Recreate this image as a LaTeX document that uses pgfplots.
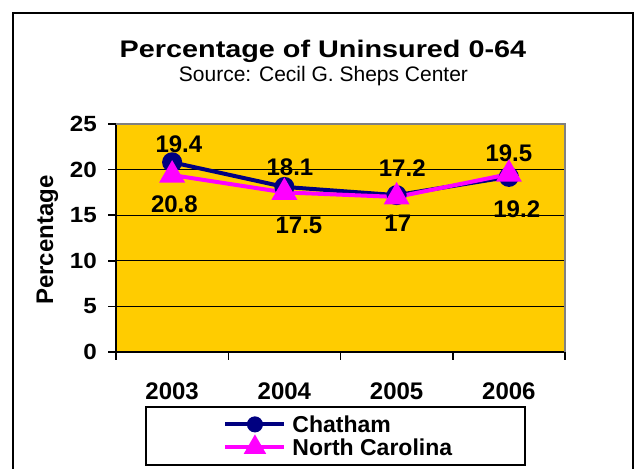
\documentclass[border=0pt]{standalone}
\usepackage{pgfplots}
\pgfplotsset{compat=1.18}
\usepackage{fontspec}
\setmainfont{Liberation Sans}
\newfontfamily\titlefont[FakeStretch=1.2]{Liberation Sans}
\newfontfamily\ytickfont[FakeStretch=1.1]{Liberation Sans}
\definecolor{plotbg}{HTML}{FFCC00}
\definecolor{chat}{HTML}{000080}
\definecolor{nc}{HTML}{FF00FF}
\definecolor{pgray}{HTML}{808080}
\tikzset{dl/.style={inner sep=0pt, font=\fontsize{24bp}{28bp}\selectfont\bfseries}}
\begin{document}
\begin{tikzpicture}[x=1bp,y=1bp]
\useasboundingbox (0,0) rectangle (637,469);
\fill[white] (0,0) rectangle (637,469);
\draw[line width=2.5bp] (13,-10) -- (13,456) -- (633,456) -- (633,-10);
\node[anchor=base, inner sep=0pt, font=\fontsize{24bp}{28bp}\titlefont\bfseries] at (323,411) {Percentage of Uninsured 0-64};
\node[anchor=base, inner sep=0pt, font=\fontsize{21bp}{25bp}\selectfont] at (323.5,387) {Source: Cecil G. Sheps Center};
\node[anchor=base, inner sep=0pt, rotate=90, font=\fontsize{24bp}{28bp}\selectfont\bfseries] at (53,229) {Percentage};
\draw[line width=1.5bp] (146,4) rectangle (525,62);
\begin{axis}[
  at={(116bp,117bp)}, anchor=south west,
  scale only axis, width=449bp, height=228bp,
  xmin=0.5, xmax=4.5, ymin=0, ymax=25,
  ytick={0,5,...,25},
  xtick={1,2,3,4}, xticklabels={2003,2004,2005,2006},
  major x tick style={draw=none},
  minor xtick={0.5,1.5,2.5,3.5,4.5},
  tick align=outside, tick pos=left,
  major tick length=8bp, minor tick length=8bp,
  every tick/.style={black, line width=1.5bp},
  axis line style={black, line width=1.5bp},
  axis background/.style={fill=plotbg},
  ymajorgrids, major grid style={black, line width=1.3bp},
  /pgf/number format/assume math mode=true,
  yticklabel style={font=\fontsize{22bp}{26bp}\ytickfont\bfseries, anchor=east, inner ysep=0pt, inner xsep=11bp},
  xticklabel style={font=\fontsize{24bp}{28bp}\selectfont\bfseries, anchor=north, inner sep=0pt, yshift=-23bp},
  legend style={at={(axis description cs:0.494,-0.368)}, anchor=center, draw=none, fill=none,
    font=\fontsize{23bp}{26bp}\selectfont\bfseries,
    nodes={inner sep=0bp, text height=16bp, text depth=0bp},
    row sep=6bp,
    /tikz/every odd column/.append style={column sep=6bp}},
  legend cell align=left,
  legend image code/.code={\draw[mark repeat=2, mark phase=2] plot coordinates {(0bp,0bp) (29.5bp,0bp) (59bp,0bp)};},
  clip=false
]
\addplot[chat, line width=4bp, mark=*, mark size=8bp, mark options={solid}, forget plot] coordinates {(1,20.8) (2,18.1) (3,17.2) (4,19.2)};
\addplot[nc, line width=4bp, mark=triangle*, mark size=11bp, mark options={solid}, forget plot] coordinates {(1,19.4) (2,17.5) (3,17.0) (4,19.5)};
\draw[pgray, line width=2.5bp] (rel axis cs:0,1) -- (rel axis cs:1,1) -- (rel axis cs:1,0);
\addlegendimage{chat, line width=4bp, mark=*, mark size=6bp}
\addlegendentry{Chatham}
\addlegendimage{nc, line width=4bp, mark=triangle*, mark size=9bp}
\addlegendentry{North Carolina}
\node[dl] at (axis cs:1.06,22.8) {19.4};
\node[dl] at (axis cs:1.02,16.2) {20.8};
\node[dl] at (axis cs:2.05,20.3) {18.1};
\node[dl] at (axis cs:2.13,13.9) {17.5};
\node[dl] at (axis cs:3.05,20.2) {17.2};
\node[dl] at (axis cs:3.01,14.1) {17};
\node[dl] at (axis cs:4.00,21.8) {19.5};
\node[dl] at (axis cs:4.07,15.6) {19.2};
\end{axis}
\end{tikzpicture}
\end{document}
